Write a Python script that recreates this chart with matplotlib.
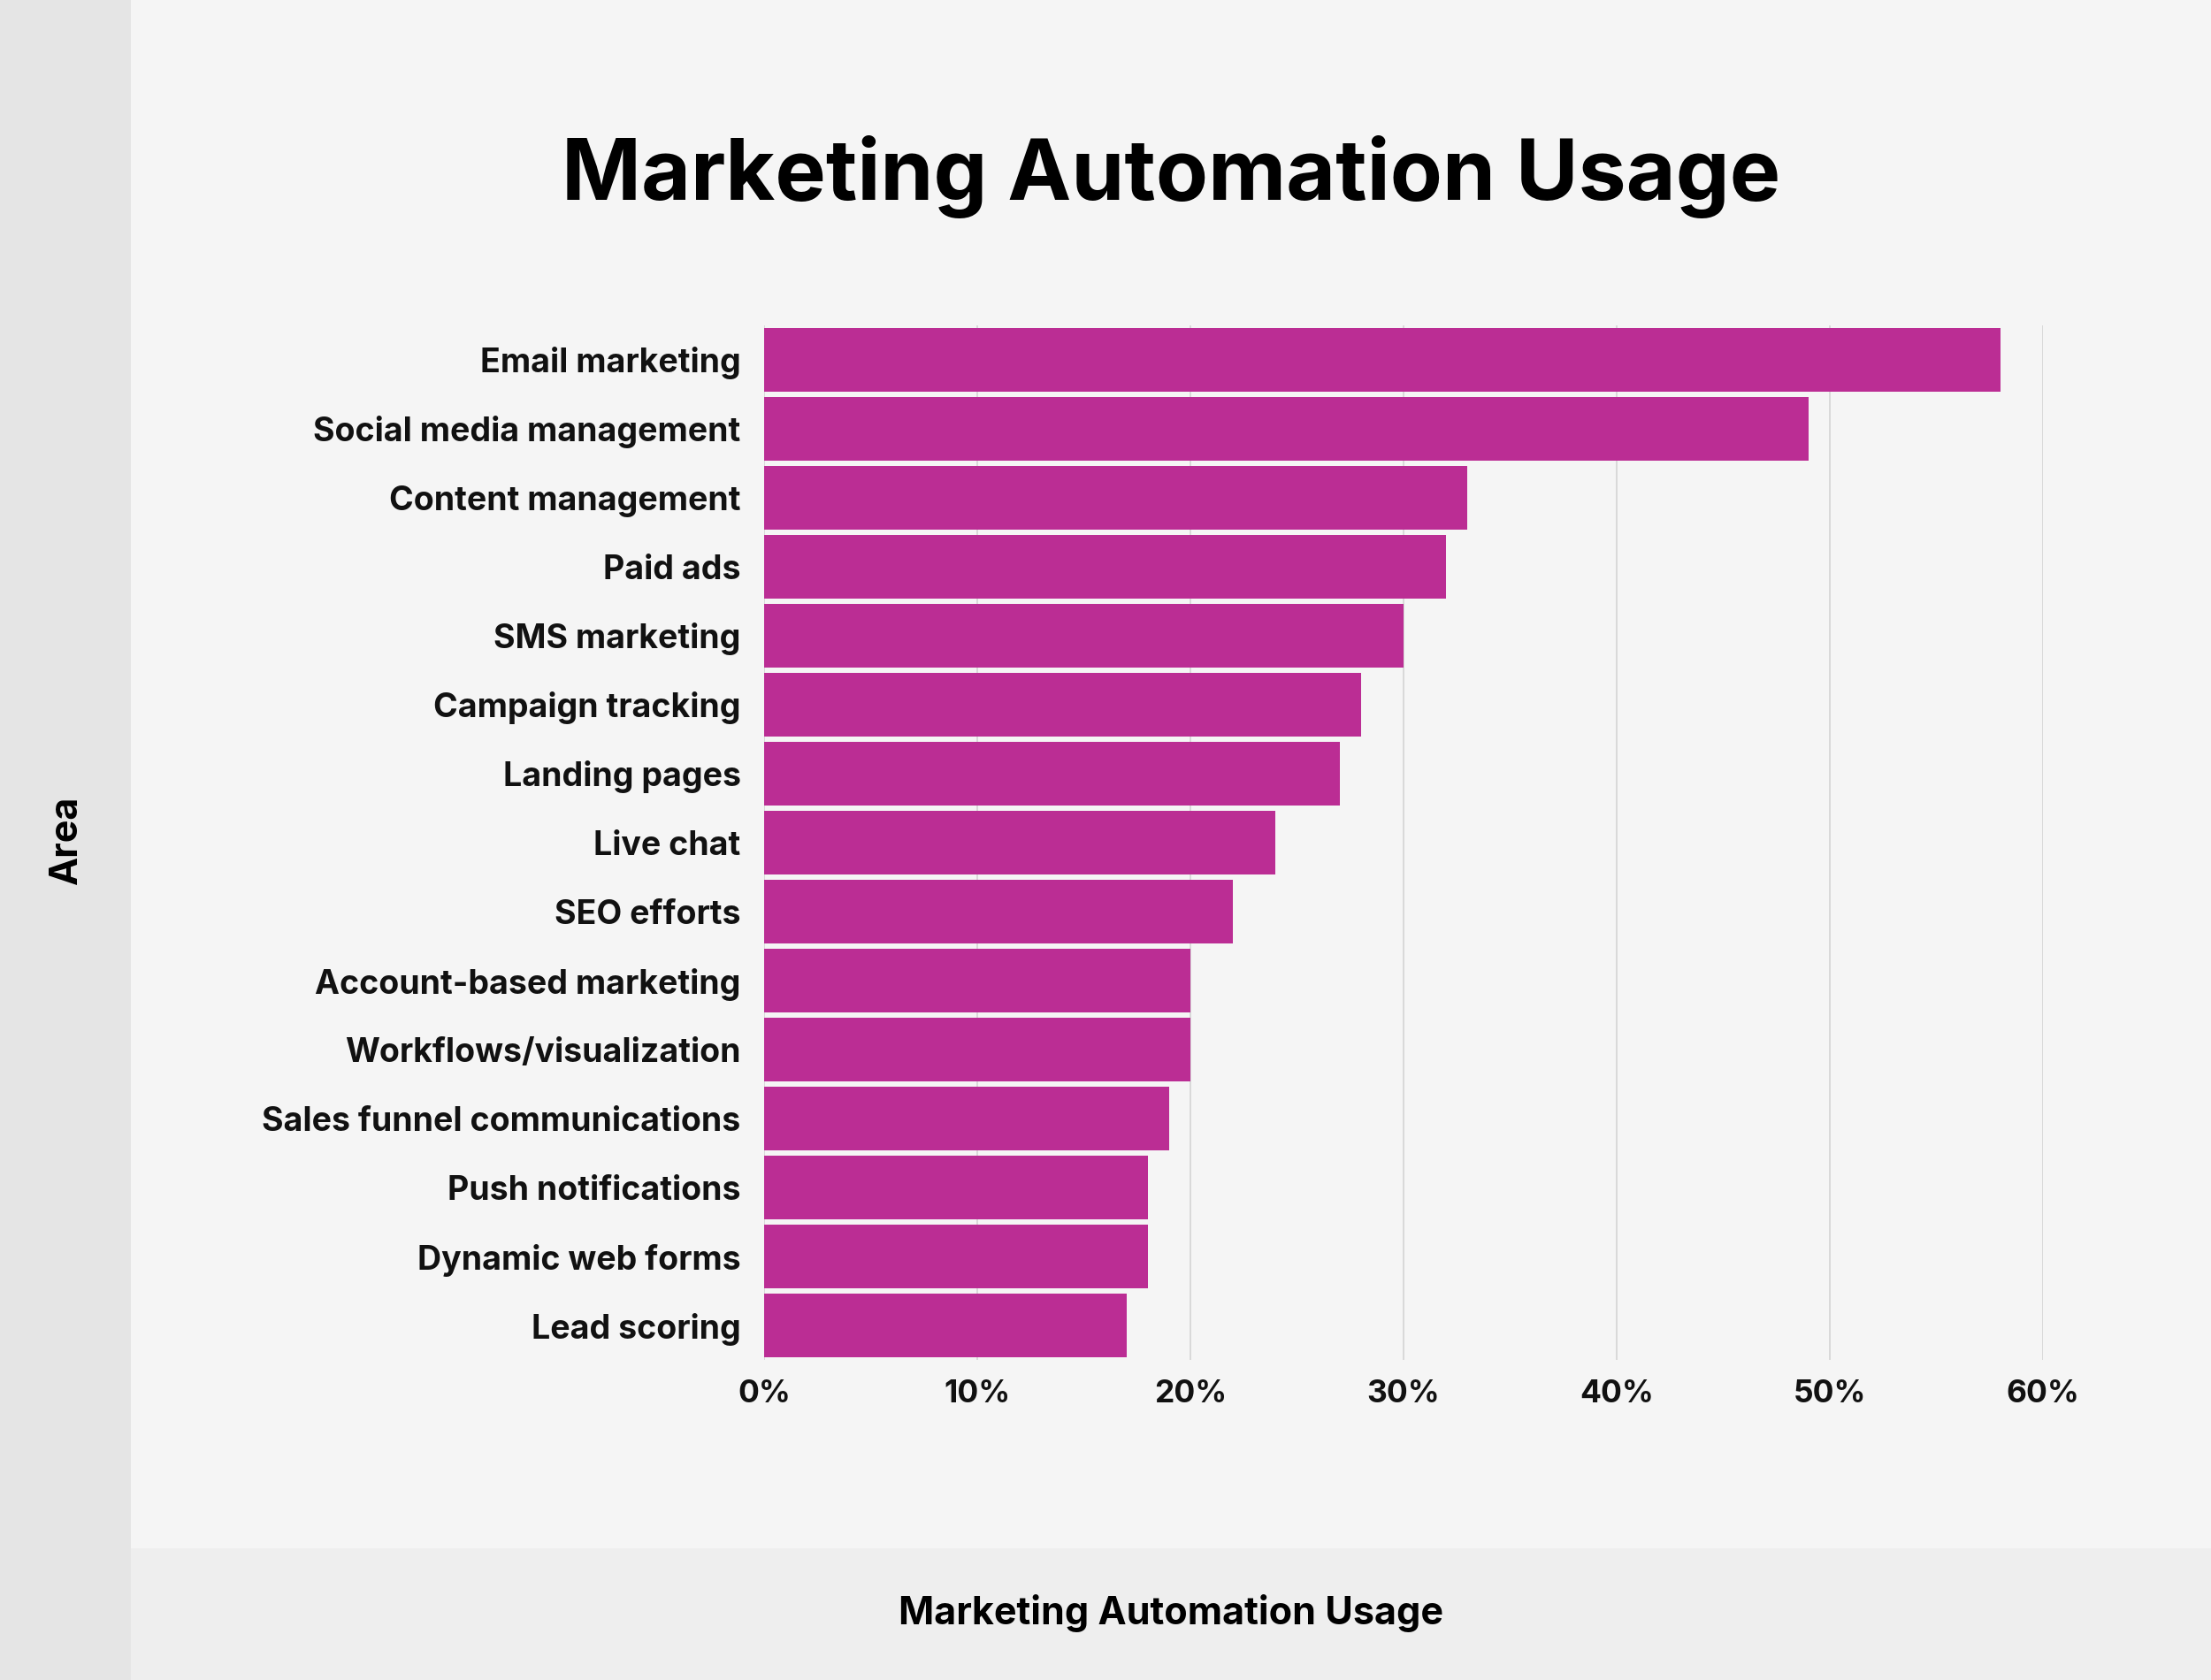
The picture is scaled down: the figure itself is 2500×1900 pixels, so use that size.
import matplotlib
matplotlib.use("Agg")
import matplotlib.pyplot as plt
from matplotlib.patches import Rectangle
from matplotlib.ticker import FuncFormatter

categories = ["Email marketing", "Social media management", "Content management",
              "Paid ads", "SMS marketing", "Campaign tracking", "Landing pages",
              "Live chat", "SEO efforts", "Account-based marketing",
              "Workflows/visualization", "Sales funnel communications",
              "Push notifications", "Dynamic web forms", "Lead scoring"]
values = [58, 49, 33, 32, 30, 28, 27, 24, 22, 20, 20, 19, 18, 18, 17]
xticks = [0, 10, 20, 30, 40, 50, 60]

plt.rcParams['font.family'] = ['Inter', 'DejaVu Sans']

W, H = 2500, 1900
fig = plt.figure(figsize=(25, 19), dpi=100)
fig.patch.set_facecolor("#f5f5f5")

# background strips
fig.patches.append(Rectangle((0, 0), 148 / W, 1, transform=fig.transFigure,
                             facecolor="#e5e5e5", edgecolor="none", zorder=0))
fig.patches.append(Rectangle((148 / W, 0), 1 - 148 / W, 149 / H, transform=fig.transFigure,
                             facecolor="#eeeeee", edgecolor="none", zorder=0))

bar_h = 0.92
slot = (1535 - 371) / (len(values) - 1 + bar_h)
top_px = 371 - slot * (1 - bar_h) / 2
bot_px = 1535 + slot * (1 - bar_h) / 2
left_px, right_px = 864, 2310
ax = fig.add_axes([left_px / W, 1 - bot_px / H, (right_px - left_px) / W, (bot_px - top_px) / H])
ax.set_facecolor("none")

y = list(range(len(values)))
ax.barh(y, values, height=bar_h, color="#bb2d94", zorder=3)
ax.set_ylim(len(values) - 0.5, -0.5)
ax.set_xlim(0, 60)
ax.set_xticks(xticks)
ax.xaxis.set_major_formatter(FuncFormatter(lambda v, p: f"{int(v)}%"))
ax.set_yticks(y)
ax.set_yticklabels(categories)
ax.grid(axis="x", color="#d4d4d4", linewidth=1.2, zorder=0)
ax.grid(axis="y", visible=False)
for s in ax.spines.values():
    s.set_visible(False)
ax.tick_params(axis="both", length=0)
ax.tick_params(axis="y", pad=19, labelsize=27)
ax.tick_params(axis="x", pad=16, labelsize=25.5)
for lab in ax.get_yticklabels() + ax.get_xticklabels():
    lab.set_fontweight("bold")
    lab.set_color("#111111")

fig.text(1324 / W, 1 - 200 / H, "Marketing Automation Usage", ha="center", va="center",
         fontsize=69.5, fontweight="bold", color="#000000")
fig.text(75 / W, 1 - 950 / H, "Area", ha="center", va="center", rotation=90,
         fontsize=31, fontweight="bold", color="#000000")
fig.text(1324 / W, 1 - 1824 / H, "Marketing Automation Usage", ha="center", va="center",
         fontsize=31, fontweight="bold", color="#000000")

fig.savefig("out.png", dpi=100, facecolor=fig.get_facecolor())
